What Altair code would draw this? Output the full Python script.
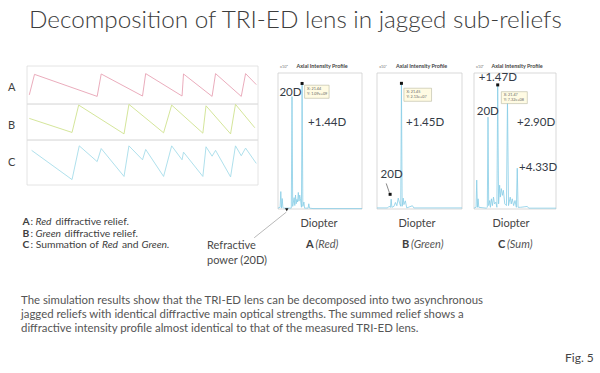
import altair as alt
import pandas as pd

W, H = 600, 373
FONT = "Lato"
TXT = "#404040"
SPEC = "#86cde6"
FRAME = "#cfcfcf"

# ---------------- data ----------------
# left panel: jagged relief profiles (vertices)
relief_a_x = [0.08, 0.26, 2.43, 2.57, 4.00, 4.11, 5.37, 5.42, 6.41, 6.53, 7.42, 7.57, 7.94]
relief_a_y = [0.24, 0.78, 0.20, 0.79, 0.21, 0.80, 0.21, 0.79, 0.20, 0.80, 0.20, 0.80, 0.51]
relief_b_x = [0.08, 1.56, 1.79, 3.36, 3.53, 4.73, 5.01, 6.09, 6.20, 7.05, 7.22, 7.89]
relief_b_y = [0.60, 0.21, 0.97, 0.17, 0.99, 0.20, 0.97, 0.19, 0.95, 0.17, 0.99, 0.34]
relief_c_x = [0.16, 1.56, 1.81, 2.43, 2.57, 3.36, 3.53, 4.00, 4.11, 4.73, 5.01, 5.37,
              5.42, 6.09, 6.20, 6.41, 6.53, 7.05, 7.22, 7.42, 7.57, 7.94]
relief_c_y = [0.77, 0.12, 0.87, 0.52, 0.81, 0.19, 0.87, 0.56, 0.79, 0.19, 0.87, 0.56,
              0.73, 0.19, 0.85, 0.64, 0.77, 0.18, 0.87, 0.65, 0.82, 0.48]
relief_x_ticks = [0, 1, 2, 3, 4, 5, 6, 7, 8]

# axial intensity profiles
diopter_ticks = [18, 20, 22, 24, 26, 28, 30]

spec_a_x = [18.0, 18.3, 18.4, 18.5, 18.6, 18.7, 18.8, 19.9, 20.0, 20.1, 20.3, 20.4, 20.5, 20.6,
            20.7, 20.8, 20.9, 21.0, 21.1, 21.2, 21.35, 21.44, 21.55, 21.7, 21.8, 22.3, 22.4,
            22.5, 23.0, 30.0]
spec_a_y = [0.1, 0.2, 2.0, 0.1, 1.2, 0.2, 0.1, 0.1, 12.9, 0.3, 1.3, 0.4, 1.6, 0.6,
            1.1, 0.8, 1.9, 0.9, 1.6, 1.2, 0.2, 14.4, 0.3, 0.8, 0.1, 0.1, 0.6,
            0.1, 0.05, 0.05]
spec_a_yticks = [0, 5, 10, 15]

spec_b_x = [18.0, 19.5, 19.7, 19.9, 20.0, 20.1, 20.4, 20.6, 20.8, 21.0, 21.2, 21.35, 21.45,
            21.55, 21.7, 21.8, 22.0, 22.2, 23.0, 23.2, 30.0]
spec_b_y = [0.02, 0.02, 0.05, 0.03, 0.18, 0.03, 0.05, 0.12, 0.06, 0.2, 0.1, 0.05, 2.31,
            0.05, 0.2, 0.08, 0.15, 0.02, 0.06, 0.02, 0.02]
spec_b_yticks = [0, 0.5, 1, 1.5, 2, 2.5]

spec_c_x = [18.0, 18.3, 18.4, 18.5, 18.6, 18.7, 19.8, 19.95, 20.05, 20.15, 20.3, 20.4, 20.55,
            20.7, 20.85, 21.0, 21.2, 21.35, 21.47, 21.6, 21.75, 21.85, 22.0, 22.15, 22.3,
            22.5, 22.75, 22.9, 23.05, 23.3, 23.45, 23.6, 23.8, 24.0, 24.2, 24.33, 24.45,
            24.8, 25.8, 26.0, 30.0]
spec_c_y = [0.05, 0.1, 1.7, 0.1, 0.6, 0.1, 0.05, 0.1, 5.4, 0.2, 0.5, 0.1, 0.6,
            0.2, 0.7, 0.3, 0.4, 0.1, 7.3, 0.3, 1.4, 0.7, 1.2, 0.8, 1.1,
            0.3, 0.2, 6.5, 0.2, 0.7, 0.3, 0.6, 0.2, 0.5, 0.1, 2.4, 0.1,
            0.1, 0.15, 0.05, 0.05]
spec_c_yticks = [0, 1, 2, 3, 4, 5, 6, 7, 8]

# ---------------- layout (pixels) ----------------
LEFT_X = (27, 258)
ROWS = {"A": (66, 104), "B": (104, 140), "C": (140, 185)}
PANEL_Y = (73, 209)
PANELS_X = [(278, 362), (377, 462), (474, 556)]


def free_text(text, x, y, size, weight="normal", style="normal", align="left",
              color=TXT, baseline="middle"):
    return alt.Chart(pd.DataFrame({"t": [text]})).mark_text(
        x=x, y=y, align=align, baseline=baseline, fontSize=size, fontWeight=weight,
        fontStyle=style, font=FONT, color=color
    ).encode(text="t:N")


def relief_row(xs, ys, color, yr):
    xsc = alt.Scale(domain=[0, 8], range=[LEFT_X[0], LEFT_X[1]], nice=False, zero=False)
    ysc = alt.Scale(domain=[0, 1], range=[yr[1], yr[0]], nice=False, zero=False)
    xaxis = alt.Axis(orient="bottom", offset=yr[1] - H, values=relief_x_ticks, labels=False,
                     tickSize=2, tickColor="#cccccc", domain=False, grid=False, title=None)
    yaxis = alt.Axis(orient="left", offset=-LEFT_X[0], values=[0.2, 0.5, 0.8], labels=False,
                     tickSize=2, tickColor="#cccccc", domain=False, grid=False, title=None)
    line = alt.Chart(pd.DataFrame({"x": xs, "y": ys})).mark_line(
        color=color, strokeWidth=0.9
    ).encode(x=alt.X("x:Q", scale=xsc, axis=xaxis), y=alt.Y("y:Q", scale=ysc, axis=yaxis))
    frame = alt.Chart(pd.DataFrame({"x0": [0], "x1": [8], "y0": [0], "y1": [1]})).mark_rect(
        fillOpacity=0, stroke="#dddddd", strokeWidth=0.8
    ).encode(x=alt.X("x0:Q", scale=xsc, axis=None), x2="x1:Q",
             y=alt.Y("y0:Q", scale=ysc, axis=None), y2="y1:Q")
    return alt.layer(frame, line)


def spectrum_panel(xs, ys, px, ymax, yticks, exp_label, annots, marker, tip, tip_lines,
                   extra=None):
    xsc = alt.Scale(domain=[18, 30], range=[px[0], px[1]], nice=False, zero=False)
    ysc = alt.Scale(domain=[0, ymax], range=[PANEL_Y[1], PANEL_Y[0]], nice=False, zero=False)
    xaxis = alt.Axis(orient="bottom", offset=PANEL_Y[1] - H, values=diopter_ticks,
                     labelFontSize=4.5, labelColor="#9a9a9a", labelPadding=1, tickSize=2,
                     tickColor="#cccccc", domainColor=FRAME, grid=False, title=None,
                     labelFont=FONT)
    yaxis = alt.Axis(orient="left", offset=-px[0], values=yticks, labelFontSize=4.5,
                     labelColor="#9a9a9a", labelPadding=1, tickSize=2, tickColor="#cccccc",
                     domainColor=FRAME, grid=False, title=None, labelFont=FONT)
    frame = alt.Chart(pd.DataFrame({"x0": [18], "x1": [30], "y0": [0], "y1": [ymax]})).mark_rect(
        fillOpacity=0, stroke=FRAME, strokeWidth=0.8
    ).encode(x=alt.X("x0:Q", scale=xsc, axis=None), x2="x1:Q",
             y=alt.Y("y0:Q", scale=ysc, axis=None), y2="y1:Q")
    line = alt.Chart(pd.DataFrame({"x": xs, "y": ys})).mark_line(
        color=SPEC, strokeWidth=0.8
    ).encode(x=alt.X("x:Q", scale=xsc, axis=xaxis), y=alt.Y("y:Q", scale=ysc, axis=yaxis))
    exp_t = alt.Chart(pd.DataFrame({"x": [18.3], "y": [ymax * 1.045], "t": [exp_label]})).mark_text(
        font=FONT, color="#777777", baseline="middle", align="left", fontSize=3.8
    ).encode(x=alt.X("x:Q", scale=xsc, axis=None), y=alt.Y("y:Q", scale=ysc, axis=None), text="t:N")
    ttl = alt.Chart(pd.DataFrame({"x": [24.3], "y": [ymax * 1.055], "t": ["Axial Intensity Profile"]})).mark_text(
        font=FONT, color="#444444", baseline="middle", align="center", fontSize=5.4, fontWeight="bold"
    ).encode(x=alt.X("x:Q", scale=xsc, axis=None), y=alt.Y("y:Q", scale=ysc, axis=None), text="t:N")
    tipbox = alt.Chart(pd.DataFrame({"x0": [tip[0]], "x1": [tip[1]], "y0": [tip[2]], "y1": [tip[3]]})).mark_rect(
        fill="#fffbe3", stroke="#b9b9a0", strokeWidth=0.6
    ).encode(x=alt.X("x0:Q", scale=xsc, axis=None), x2="x1:Q",
             y=alt.Y("y0:Q", scale=ysc, axis=None), y2="y1:Q")
    th = tip[2] - tip[3]
    tiptext = alt.Chart(pd.DataFrame({
        "x": [tip[0] + 0.35, tip[0] + 0.35],
        "y": [tip[2] - th * 0.3, tip[2] - th * 0.7],
        "t": tip_lines})).mark_text(
        font=FONT, color="#666666", baseline="middle", align="left", fontSize=3.8
    ).encode(x=alt.X("x:Q", scale=xsc, axis=None), y=alt.Y("y:Q", scale=ysc, axis=None), text="t:N")
    mk = alt.Chart(pd.DataFrame({"x": [m[0] for m in marker], "y": [m[1] for m in marker]})).mark_square(
        color="#111111", size=9, opacity=1
    ).encode(x=alt.X("x:Q", scale=xsc, axis=None), y=alt.Y("y:Q", scale=ysc, axis=None))
    ann = alt.Chart(pd.DataFrame({"x": [a[0] for a in annots], "y": [a[1] for a in annots],
                                  "t": [a[2] for a in annots]})).mark_text(
        font=FONT, color="#343b46", baseline="middle", align="left", fontSize=11.5
    ).encode(x=alt.X("x:Q", scale=xsc, axis=None), y=alt.Y("y:Q", scale=ysc, axis=None), text="t:N")
    layers = [frame, line, tipbox, tiptext, mk, exp_t, ttl, ann]
    if extra is not None:
        for e in extra:
            layers.append(e(xsc, ysc))
    return alt.layer(*layers)


def refr_leader(xsc, ysc):
    return alt.Chart(pd.DataFrame({"x": [19.2], "y": [-0.35], "x2": [14.6], "y2": [-3.3]})).mark_rule(
        color="#9a9a9a", strokeWidth=0.7
    ).encode(x=alt.X("x:Q", scale=xsc, axis=None), y=alt.Y("y:Q", scale=ysc, axis=None),
             x2="x2:Q", y2="y2:Q")


def refr_head(xsc, ysc):
    return alt.Chart(pd.DataFrame({"x": [19.25], "y": [-0.1]})).mark_point(
        shape="triangle-down", filled=True, color="#111111", size=12, opacity=1
    ).encode(x=alt.X("x:Q", scale=xsc, axis=None), y=alt.Y("y:Q", scale=ysc, axis=None))


def b_leader(xsc, ysc):
    return alt.Chart(pd.DataFrame({"x": [19.3], "y": [0.47], "x2": [19.75], "y2": [0.3]})).mark_rule(
        color="#555555", strokeWidth=0.7
    ).encode(x=alt.X("x:Q", scale=xsc, axis=None), y=alt.Y("y:Q", scale=ysc, axis=None),
             x2="x2:Q", y2="y2:Q")


row_a = relief_row(relief_a_x, relief_a_y, "#e8a3b4", ROWS["A"])
row_b = relief_row(relief_b_x, relief_b_y, "#cfe28f", ROWS["B"])
row_c = relief_row(relief_c_x, relief_c_y, "#a6dcea", ROWS["C"])

panel_a = spectrum_panel(
    spec_a_x, spec_a_y, PANELS_X[0], 15.6, spec_a_yticks, "x10\u2078",
    annots=[(18.2, 13.3, "20D"), (22.3, 9.9, "+1.44D")],
    marker=[(21.44, 14.4)], tip=(21.8, 25.3, 14.2, 12.7), tip_lines=["X: 21.44", "Y: 1.09e+09"],
    extra=[refr_leader, refr_head])
panel_b = spectrum_panel(
    spec_b_x, spec_b_y, PANELS_X[1], 2.5, spec_b_yticks, "x10\u2077",
    annots=[(22.1, 1.58, "+1.45D"), (18.5, 0.62, "20D")],
    marker=[(21.45, 2.31), (19.85, 0.27)], tip=(21.8, 25.7, 2.22, 1.98),
    tip_lines=["X: 21.45", "Y: 2.13e+07"], extra=[b_leader])
panel_c = spectrum_panel(
    spec_c_x, spec_c_y, PANELS_X[2], 8, spec_c_yticks, "x10\u2078",
    annots=[(18.7, 7.7, "+1.47D"), (18.4, 5.7, "20D"), (24.3, 5.06, "+2.90D"), (24.6, 2.41, "+4.33D")],
    marker=[(21.47, 7.3)], tip=(22.0, 25.8, 6.9, 6.2), tip_lines=["X: 21.47", "Y: 7.32e+08"])

LS = 10.3  # legend font size
texts = [
    free_text("Decomposition of TRI-ED lens in jagged sub-reliefs", 29, 21, 24.3, weight=300,
              color="#3c3c3c"),
    free_text("A", 8, 88, 11), free_text("B", 8, 126, 11), free_text("C", 8, 163, 11),
    # legend
    free_text("A", 22.5, 222, LS, weight="bold"), free_text(":", 30.5, 222, LS),
    free_text("Red", 35.5, 222, LS, style="italic"),
    free_text("diffractive relief.", 55.5, 222, LS),
    free_text("B", 22.5, 233.5, LS, weight="bold"), free_text(":", 30.5, 233.5, LS),
    free_text("Green", 35.5, 233.5, LS, style="italic"),
    free_text("diffractive relief.", 64.5, 233.5, LS),
    free_text("C", 22.5, 245, LS, weight="bold"), free_text(": Summation of", 30.5, 245, LS),
    free_text("Red", 102, 245, LS, style="italic"), free_text("and", 122, 245, LS),
    free_text("Green.", 141.5, 245, LS, style="italic"),
    # refractive power
    free_text("Refractive", 207, 246, 11, color="#4a4a4a"),
    free_text("power (20D)", 207, 261, 11, color="#4a4a4a"),
    # x titles
    free_text("Diopter", 319, 224, 11, align="center", color="#444444"),
    free_text("Diopter", 417, 224, 11, align="center", color="#444444"),
    free_text("Diopter", 511, 224, 11, align="center", color="#444444"),
    free_text("A", 306, 245, 11, weight="bold"), free_text("(Red)", 315.5, 245, 11, style="italic", color="#555555"),
    free_text("B", 402, 245, 11, weight="bold"), free_text("(Green)", 411, 245, 11, style="italic", color="#555555"),
    free_text("C", 498, 245, 11, weight="bold"), free_text("(Sum)", 507, 245, 11, style="italic", color="#555555"),
    # paragraph
    free_text("The simulation results show that the TRI-ED lens can be decomposed into two asynchronous",
              21, 301, 11.4, color="#555555"),
    free_text("jagged reliefs with identical diffractive main optical strengths. The summed relief shows a",
              21, 315, 11.4, color="#555555"),
    free_text("diffractive intensity profile almost identical to that of the measured TRI-ED lens.",
              21, 329, 11.4, color="#555555"),
    free_text("Fig. 5", 565, 358, 12, color="#444444"),
]

chart = alt.layer(row_a, row_b, row_c, panel_a, panel_b, panel_c, *texts).resolve_scale(
    x="independent", y="independent"
).properties(
    width=W, height=H, autosize=alt.AutoSizeParams(type="none"), padding=0,
    background="white"
).configure_view(stroke=None)

chart.save("out.html", embed_options={"renderer": "svg", "actions": False})
